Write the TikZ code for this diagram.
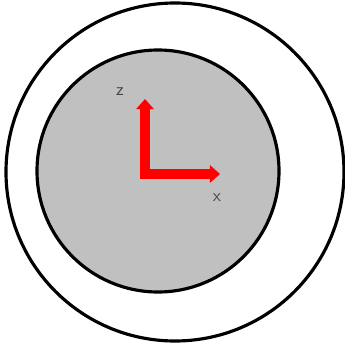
\documentclass[tikz,border=0pt]{standalone}
\usepackage{xcolor}
\usepackage{tikz}
\usetikzlibrary{arrows.meta, positioning}
\definecolor{corefill}{RGB}{192, 192, 192}
\definecolor{axisred}{RGB}{255, 0, 0}
\definecolor{labelgray}{RGB}{70, 70, 70}

\begin{document}
\begin{tikzpicture}[
          x=0.02cm, y=-0.02cm,
          ring/.style={draw, circle, line width=1.8pt, inner sep=0pt},
          axis/.style={{Triangle[length=5.7pt, width=9.7pt]}-{Triangle[length=5.7pt, width=9.7pt]},
                       line width=5.9pt, color=axisred, line join=miter},
          lbl/.style={font=\sffamily, text=labelgray, inner sep=0pt},
        ]
        \useasboundingbox (0,0) rectangle (345,345);
        \node[ring, minimum size=338*0.02cm] (outer) at (175,172) {};
        \node[ring, fill=corefill, minimum size=242*0.02cm] (inner) at (158,171) {};

        \coordinate (orig) at (145,174);
        \coordinate (ztip) at (145,99);
        \coordinate (xtip) at (220,174);
        \draw[axis] (ztip) -- (orig) -- (xtip);

        \node[lbl] (zlab) at (120,92) {z};
        \node[lbl] (xlab) at (217,198) {x};
      \end{tikzpicture}
\end{document}
